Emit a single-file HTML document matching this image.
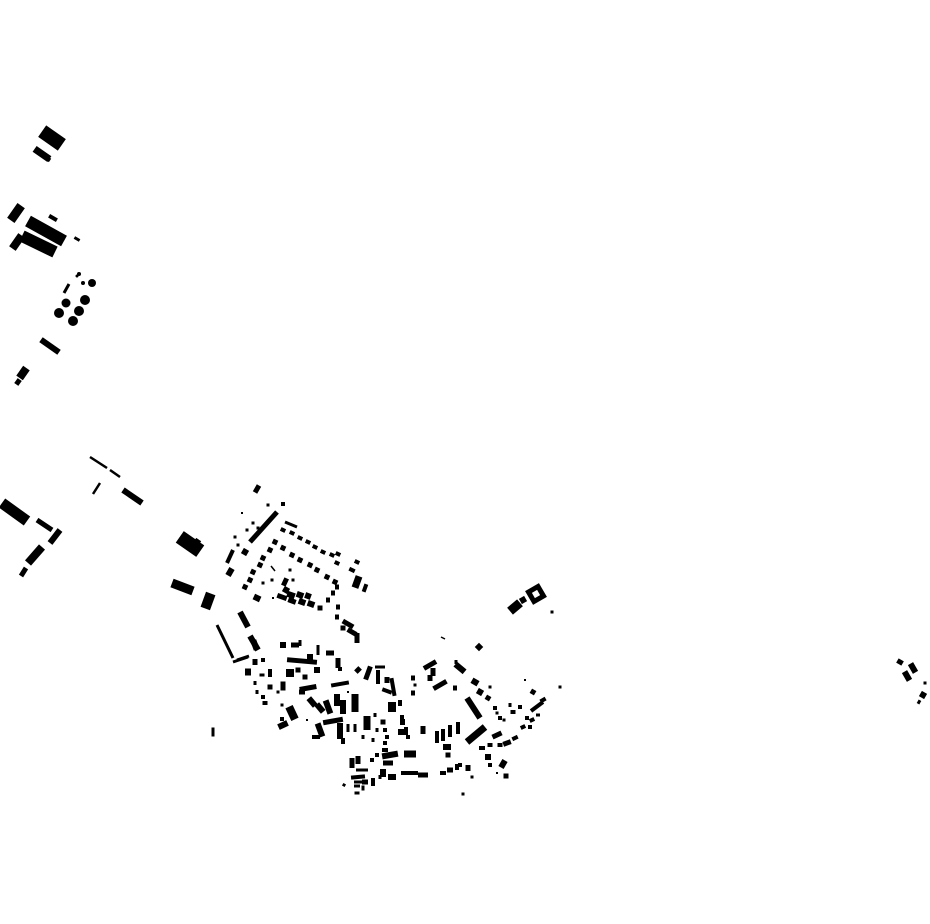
<!DOCTYPE html>
<html><head><meta charset="utf-8"><style>html,body{margin:0;padding:0;background:#fff}svg{display:block}</style></head>
<body>
<svg id="s" width="930" height="924" viewBox="0 0 930 924" xmlns="http://www.w3.org/2000/svg">
<rect width="930" height="924" fill="#fff"/>
<g id="g" fill="#000"></g>
</svg>
<script>
var g=document.getElementById('g'),NS='http://www.w3.org/2000/svg';
function R(cx,cy,w,h,a){var r=document.createElementNS(NS,'rect');r.setAttribute('x',cx-w/2);r.setAttribute('y',cy-h/2);r.setAttribute('width',w);r.setAttribute('height',h);if(a)r.setAttribute('transform','rotate('+a+' '+cx+' '+cy+')');g.appendChild(r);}
function L(x1,y1,x2,y2,w){var dx=x2-x1,dy=y2-y1;R((x1+x2)/2,(y1+y2)/2,Math.sqrt(dx*dx+dy*dy),w,Math.atan2(dy,dx)*180/Math.PI);}
function C(x,y,r){var c=document.createElementNS(NS,'circle');c.setAttribute('cx',x);c.setAttribute('cy',y);c.setAttribute('r',r);g.appendChild(c);}
// NW group
R(52,138,24,14,35);R(42,154,18,7,35);R(48,159,5,4,35);
R(16,213,9,18,35);L(28,221,64,241,12);L(22,236,55,252,12);R(17,242,8,16,35);R(53,218,9,4,30);R(77,239,6,3,30);
C(92,283,4);C(66,303,4.5);C(85,300,5);C(59,313,5);C(79,311,5);C(73,321,5);C(79,274,2);C(83,283,2);C(77,276,1.5);L(64,293,69,284,3);
R(50,346,22,6,35);R(23,373,8,12,35);R(18,382,5,6,35);
// W lines
L(90,457,107,468,2.5);L(110,470,120,477,2.5);L(100,483,93,494,2.5);L(123,490,142,503,6);
L(2,503,27,521,11);L(37,520,52,530,5);L(60,530,50,543,6);L(42,547,28,563,8);L(26,568,21,576,5);
R(190,544,25,14,35);R(197,542,6,6,35);L(172,583,193,591,9);R(208,601,10,16,20);
L(217,625,233,658,3);L(233,662,248,657,3);L(240,612,248,627,6);L(250,636,258,650,6);R(213,732,3,9,0);
// north grid
R(257,489,5,8,30);R(283,504,4,4,0);R(268,505,3,3,0);R(242,513,2,2,0);
L(250,542,277,512,5);R(253,523,3,3,0);R(258,528,3,3,0);R(247,530,3,3,0);R(235,537,3,3,0);
L(233,550,227,563,4);R(230,572,6,8,30);R(245,552,6,6,30);R(238,545,3,3,0);
L(285,522,297,527,3);
[[283,530],[292,533],[300,538],[308,542],[315,547],[323,552],[332,555],[338,554],[337,563],[357,562]].forEach(function(p){R(p[0],p[1],5,4,25);});
[[275,542],[270,550],[263,558],[260,565],[253,572],[250,580],[245,587]].forEach(function(p){R(p[0],p[1],5,5,25);});
[[283,548],[292,555],[300,560],[310,565],[317,570],[327,577],[335,582]].forEach(function(p){R(p[0],p[1],5,5,25);});
L(271,566,275,571,1.5);R(290,570,3,3,0);R(352,570,6,4,25);R(357,582,7,12,20);R(365,588,4,8,20);
R(285,582,5,8,25);R(293,580,3,3,0);R(263,583,3,3,0);R(272,580,3,3,0);R(257,598,7,6,25);R(273,598,2,2,0);
R(282,597,10,5,20);R(291,595,8,6,20);R(300,595,7,6,20);R(308,596,6,6,20);R(292,601,8,5,20);R(302,602,7,6,20);R(311,604,7,6,20);R(320,608,5,5,0);R(286,590,6,6,30);
R(337,587,4,5,0);R(333,593,4,5,0);R(328,600,4,5,0);R(338,607,4,5,0);R(337,617,4,5,0);
R(348,624,12,5,30);R(352,632,10,5,30);R(357,638,5,10,0);R(343,628,5,5,0);
// central
R(255,645,6,10,-20);L(237,660,249,656,3);R(255,662,5,6,0);R(263,660,4,4,0);
R(248,672,6,7,0);R(262,675,5,3,0);R(270,673,4,8,0);R(255,683,3,4,0);R(257,692,3,4,0);R(263,697,4,4,0);R(265,703,5,4,0);R(270,687,5,5,0);
R(283,645,6,6,0);R(295,645,8,5,0);R(300,643,3,6,0);
R(302,661,30,5,5);R(310,657,6,6,0);R(318,650,3,10,0);R(330,653,8,5,0);R(338,663,5,10,0);R(340,669,4,4,0);
R(290,673,8,8,0);R(298,670,5,5,0);R(305,677,5,5,0);R(317,670,6,6,0);
R(308,688,17,5,-10);R(302,692,6,5,0);R(283,686,5,9,0);R(278,692,3,3,0);R(282,705,3,3,0);
R(340,684,18,4,-10);R(348,692,2,2,0);R(358,670,5,6,45);R(368,673,5,14,20);
R(380,667,10,3,0);R(378,677,4,14,0);R(387,680,5,6,0);R(393,687,4,18,-10);R(387,691,10,4,20);
R(413,678,4,5,0);R(413,693,4,5,0);
R(312,702,6,10,-40);R(320,708,6,10,-40);R(328,707,6,14,-20);R(337,700,6,12,0);R(343,707,6,14,0);R(355,703,7,18,0);
R(292,713,8,14,-25);R(283,725,10,6,-25);R(282,719,4,4,0);R(307,720,2,2,0);
R(320,730,6,14,-20);R(316,737,8,4,0);
R(333,721,20,5,-10);R(340,731,6,16,0);R(343,741,4,6,0);R(348,728,3,8,0);R(355,728,3,8,0);
R(367,723,7,14,0);R(363,737,3,4,0);R(375,715,3,4,0);R(377,730,3,4,0);R(373,740,3,4,0);
R(383,722,5,5,0);R(385,730,4,4,0);R(387,737,4,4,0);R(385,743,4,4,0);
R(392,707,8,10,0);R(400,703,4,6,0);R(402,720,4,10,0);R(403,732,10,6,0);R(408,737,4,4,0);
R(385,750,6,4,0);R(390,755,16,6,-10);R(377,755,4,4,0);R(372,760,4,4,0);
R(358,760,5,8,0);R(352,763,5,10,0);R(362,770,12,3,0);R(388,763,10,5,0);R(410,754,12,7,0);
R(383,773,6,8,0);R(392,777,8,6,0);R(380,777,3,4,0);R(407,773,12,4,0);R(415,773,6,4,0);
R(358,777,14,4,-5);R(360,782,12,3,0);R(357,786,6,3,0);R(365,782,6,5,0);R(373,782,4,8,0);R(357,793,5,3,0);R(363,788,3,5,0);R(344,785,3,3,30);
// east
L(441,637,445,639,1.5);R(479,647,6,6,45);
R(430,665,14,5,-30);R(433,672,5,8,0);R(430,678,5,6,0);R(413,678,3,3,0);R(415,685,3,3,0);
R(440,685,15,5,-30);R(455,688,4,5,0);R(460,668,12,6,40);R(456,662,3,4,0);
R(475,682,7,6,30);R(480,692,6,6,30);R(488,698,5,5,30);R(490,687,3,3,0);
L(467,698,480,718,6);R(495,708,4,4,0);R(497,713,3,3,0);R(510,705,3,4,0);R(513,712,5,4,0);R(520,707,4,4,0);
R(500,718,4,4,0);R(504,720,3,3,0);R(525,680,2,2,0);R(533,692,5,5,30);R(543,700,6,4,-30);
L(531,711,543,702,4);R(527,718,4,4,0);R(530,727,4,4,0);R(560,687,3,3,0);
R(423,730,5,8,0);R(437,737,4,12,0);R(443,735,4,12,0);R(450,731,4,12,0);R(458,728,4,12,0);
R(447,747,8,6,0);R(448,755,5,5,0);L(467,742,485,727,7);
R(497,735,10,5,-25);R(482,748,6,4,0);R(490,745,5,4,0);R(500,745,5,4,0);
R(507,743,8,5,-20);R(515,738,6,4,-25);R(523,727,5,4,-25);R(532,720,5,4,-25);R(538,715,4,3,0);
R(488,757,6,6,0);R(490,765,4,4,0);R(503,764,6,8,30);R(506,776,5,5,0);R(497,773,2,2,0);
R(403,722,4,6,0);R(406,730,4,6,0);R(408,737,3,4,0);
R(423,775,10,5,0);R(413,773,5,4,0);
R(443,773,6,4,0);R(450,770,6,5,0);R(457,767,4,6,0);R(460,765,4,4,0);R(468,768,5,6,0);R(472,777,3,3,0);R(463,794,3,3,0);
// P building
R(536,594,16,16,-30);
var h=document.createElementNS(NS,'rect');h.setAttribute('x',533);h.setAttribute('y',591);h.setAttribute('width',6);h.setAttribute('height',6);h.setAttribute('fill','#fff');h.setAttribute('transform','rotate(-30 536 594)');
R(515,607,13,9,-40);R(523,600,6,6,-30);R(552,612,3,3,0);
// far east
R(900,662,6,5,30);R(913,668,6,10,-30);R(907,676,6,10,-30);R(925,683,3,3,0);R(923,695,6,6,30);R(919,702,3,4,30);
g.appendChild(h);
</script>
</body></html>
